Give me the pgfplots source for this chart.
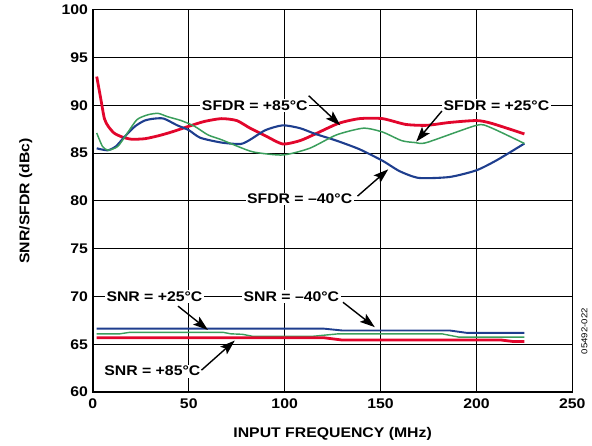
\documentclass[border=0pt]{standalone}
\usepackage{fontspec}
\setmainfont{Liberation Sans}[FakeStretch=1.13]
\usepackage{pgfplots}
\pgfplotsset{compat=1.18}
\usetikzlibrary{arrows.meta}
\definecolor{cred}{HTML}{E2062C}
\definecolor{cblue}{HTML}{1E3E8E}
\definecolor{cgreen}{HTML}{3A9E5C}
\begin{document}
\fontsize{14}{16}\selectfont\bfseries
\begin{tikzpicture}[x=1pt,y=1pt]
\path (-93,-51) rectangle (499,391);
\begin{axis}[
  at={(0,0)}, anchor=south west,
  scale only axis, width=480pt, height=383pt,
  xmin=0, xmax=250, ymin=60, ymax=100,
  xtick={0,50,...,250}, ytick={60,65,...,100},
  grid=major, major grid style={black, line width=0.8pt},
  axis line style={black, line width=1.6pt},
  tick style={draw=none},
  /pgf/number format/assume math mode=true,
  ticklabel style={font=\bfseries},
  xticklabel style={yshift=-2pt},
  yticklabel style={xshift=0pt},
  xlabel={INPUT FREQUENCY (MHz)},
  ylabel={SNR/SFDR (dBc)},
  xlabel style={font=\bfseries, yshift=-9pt},
  ylabel style={font=\bfseries, yshift=20pt},
  clip=false,
]
% SFDR +85
\addplot[cred, line width=2.8pt, smooth, tension=0.4] coordinates {
(2,93.0) (4,90.8) (6,88.6) (8,87.8) (11,87.1) (15,86.7) (20,86.45) (27,86.5) (34,86.8) (41,87.2) (50,87.8) (58,88.3) (67,88.6) (75,88.4) (82,87.6) (90,86.8) (99,85.95) (108,86.3) (116,87.0) (128,88.1) (139,88.6) (151,88.6) (163,88.0) (174,87.9) (186,88.2) (200,88.4) (208,88.1) (225,87.0)};
% SFDR -40
\addplot[cblue, line width=2.1pt, smooth, tension=0.4] coordinates {
(2,85.5) (4,85.4) (8,85.3) (12,85.7) (16.5,86.7) (22,87.8) (27,88.4) (32,88.6) (37,88.6) (44,87.9) (50,87.4) (56,86.6) (67,86.1) (77,85.95) (82,86.4) (90,87.4) (99,87.9) (108,87.6) (116,87.0) (127,86.3) (139,85.4) (151,84.2) (160,83.1) (170,82.4) (186,82.5) (200,83.2) (211,84.3) (225,86.0)};
% SFDR +25
\addplot[cgreen, line width=1.5pt, smooth, tension=0.4] coordinates {
(2,87.1) (5,85.7) (8,85.3) (13,85.7) (18,87.1) (23,88.5) (28.6,89.0) (34,89.15) (39,88.8) (46,88.4) (53,87.8) (60,86.9) (67,86.4) (75.5,85.7) (84,85.1) (99,84.8) (113,85.5) (127,86.9) (141,87.6) (151,87.2) (161,86.3) (168,86.1) (174,86.1) (200,87.9) (207,87.7) (225,86.0)};
% SNR -40
\addplot[cblue, line width=1.9pt] coordinates {
(2,66.65) (120,66.65) (130,66.45) (186,66.45) (195,66.2) (225,66.2)};
% SNR +25
\addplot[cgreen, line width=1.4pt] coordinates {
(2,66.1) (14,66.1) (19,66.25) (68,66.25) (72,66.1) (78,66.05) (83,65.85) (115,65.85) (128,66.1) (182,66.1) (191,65.75) (225,65.75)};
% SNR +85
\addplot[cred, line width=2.8pt] coordinates {
(2,65.7) (120,65.7) (130,65.45) (213,65.45) (219,65.3) (225,65.3)};

\tikzset{lbl/.style={fill=white, inner sep=1.5pt, font=\bfseries},
         arr/.style={black, line width=1.4pt, -{Stealth[length=15pt,width=10pt,inset=3pt]}}}
\node[lbl] at (axis cs:84.4,90.0) {SFDR = +85°C};
\draw[arr] (axis cs:112.5,91.0) -- (axis cs:129,87.9);
\node[lbl] at (axis cs:210.4,90.0) {SFDR = +25°C};
\draw[arr] (axis cs:182,89.4) -- (axis cs:168.6,86.2);
\node[lbl] at (axis cs:107.8,80.2) {SFDR = –40°C};
\draw[arr] (axis cs:138,80.5) -- (axis cs:154,83.3);
\node[lbl] at (axis cs:32.1,70.0) {SNR = +25°C};
\draw[arr] (axis cs:44.4,69.0) -- (axis cs:60,66.5);
\node[lbl] at (axis cs:103.5,70.0) {SNR = –40°C};
\draw[arr] (axis cs:130.4,69.4) -- (axis cs:147,66.8);
\node[lbl] at (axis cs:31,62.2) {SNR = +85°C};
\draw[arr] (axis cs:56.6,62.3) -- (axis cs:74,65.4);
\end{axis}
\node[rotate=90, font=\mdseries\fontsize{8.5}{10}\selectfont] at (492,61) {05492-022};
\end{tikzpicture}
\end{document}
